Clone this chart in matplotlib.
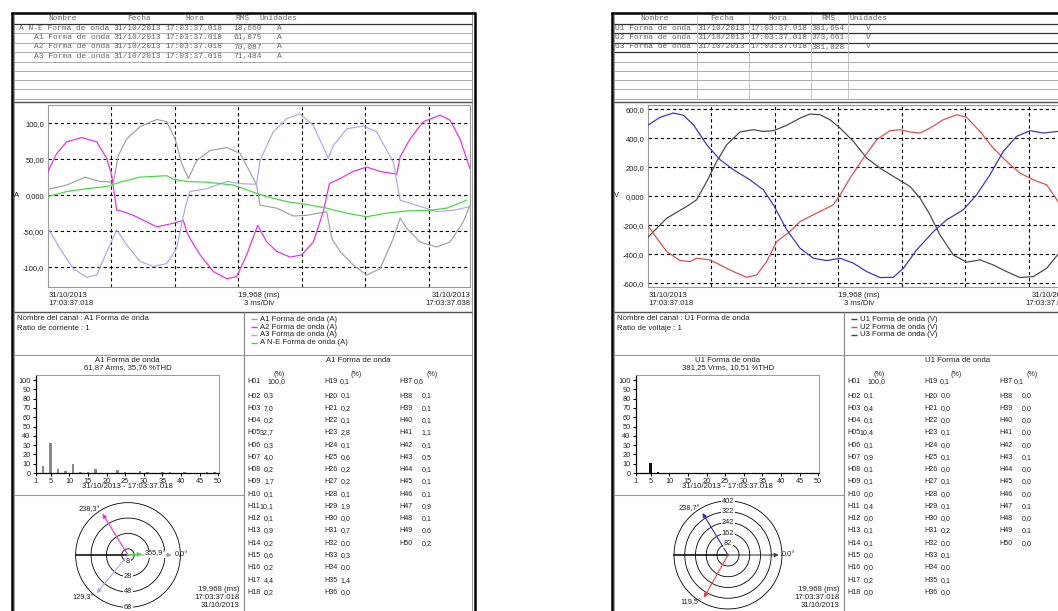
import numpy as np
import matplotlib.pyplot as plt

W, H = 1058, 611
plt.rcParams['font.family'] = ['Liberation Sans', 'DejaVu Sans']

# ---------- datos ----------
fecha = "31/10/2013"
hora_ini = "17:03:37.018"
hora_fin = "17:03:37.038"
duracion = 19.968

nombres_A = ["A N-E", "A1", "A2", "A3"]
rms_A = ["18,660", "61,875", "70,087", "71,484"]
nombres_U = ["U1", "U2", "U3"]
rms_U = ["381,654", "373,661", "381,828"]

# formas de onda de corriente (ms, A)
t_A1 = [0.0, 0.90, 1.76, 2.47, 3.10, 3.34, 3.73, 4.36, 5.15, 5.62, 6.02, 6.33, 6.65, 7.04,
        7.67, 8.46, 9.09, 9.56, 9.87, 10.03, 10.82, 11.61, 12.24, 13.18, 13.42, 13.81,
        14.44, 15.07, 15.70, 16.33, 16.65, 16.96, 17.59, 18.38, 19.01, 19.64, 19.95]
A1 = [8, 14, 25, 19, 18, 55, 78, 95, 105, 102, 78, 44, 23, 48, 62, 66, 58, 32, 14, -14,
      -18, -29, -28, -23, -60, -78, -97, -111, -102, -60, -32, -46, -65, -72, -65, -37, -14]
t_A2 = [0.0, 0.43, 0.90, 1.61, 2.31, 2.79, 3.02, 3.26, 3.37, 4.05, 5.15, 5.94, 6.41, 6.57,
        6.72, 7.20, 7.83, 8.46, 8.93, 9.40, 9.92, 10.35, 10.82, 11.45, 12.00, 12.55, 13.02,
        13.31, 13.81, 14.44, 15.07, 15.70, 16.49, 16.65, 17.12, 17.75, 18.54, 19.01, 19.48, 19.95]
A2 = [32, 58, 74, 80, 74, 51, 28, -21, -21, -28, -44, -39, -35, -51, -60, -83, -106, -116,
      -113, -83, -42, -65, -78, -86, -83, -65, -23, 16, 23, 33, 39, 33, 29, 53, 78, 102,
      111, 104, 78, 37]
t_A3 = [0.0, 0.58, 1.21, 1.84, 2.31, 2.79, 3.26, 3.73, 4.36, 4.99, 5.62, 6.09, 6.49, 6.72,
        7.51, 8.46, 9.09, 9.87, 10.03, 10.66, 11.29, 11.92, 12.55, 13.26, 13.50, 14.13,
        14.91, 15.54, 16.33, 16.65, 17.43, 18.38, 19.17, 19.95]
A3 = [-45, -74, -102, -114, -111, -79, -48, -69, -92, -99, -95, -74, -18, 5, 9, 19, 16, 15,
      48, 88, 106, 113, 97, 51, 69, 92, 96, 88, 46, -7, -14, -23, -21, -16]
t_ANE = [0.0, 0.90, 1.84, 2.79, 3.42, 4.36, 5.62, 5.94, 6.57, 7.51, 8.77, 9.72, 10.35,
         11.29, 12.24, 13.18, 14.13, 15.07, 16.02, 16.96, 18.06, 18.85, 19.80]
ANE = [-2, 5, 9, 12, 18, 25, 27, 22, 19, 18, 14, 4, -2, -9, -13, -18, -25, -30, -25, -22,
       -21, -18, -7]

# formas de onda de tension (ms, V)
t_U1 = [0.0, 0.90, 1.84, 2.31, 2.79, 3.26, 3.73, 4.36, 4.99, 5.46, 5.94, 6.57, 7.20, 7.67,
        8.14, 8.61, 9.09, 9.72, 10.35, 10.98, 11.61, 12.39, 12.87, 13.34, 13.81, 14.44,
        15.07, 15.70, 16.33, 16.96, 17.59, 18.22, 18.85, 19.39]
U1 = [-285, -152, -71, -25, 101, 239, 354, 442, 458, 446, 451, 488, 538, 566, 561, 527, 469,
      377, 262, 193, 136, 67, -14, -129, -267, -405, -455, -439, -474, -520, -561, -554,
      -497, -400]
t_U2 = [0.0, 0.43, 0.90, 1.53, 2.00, 2.31, 2.94, 3.42, 4.05, 4.68, 5.15, 5.62, 6.09, 6.72,
        7.20, 7.98, 8.77, 9.09, 9.56, 10.19, 10.82, 11.45, 11.92, 12.39, 12.87, 13.34, 13.97,
        14.60, 15.07, 15.70, 16.33, 16.96, 17.59, 18.22, 18.85, 19.39]
U2 = [-202, -290, -382, -444, -451, -428, -439, -474, -520, -559, -543, -451, -313, -244,
      -175, -117, -60, 9, 124, 262, 389, 451, 458, 442, 435, 469, 527, 561, 543, 446, 331,
      239, 159, 113, 78, -37]
t_U3 = [0.0, 0.58, 1.21, 1.69, 2.16, 2.79, 3.42, 4.05, 4.83, 5.46, 5.94, 6.57, 7.20, 7.83,
        8.46, 9.09, 9.72, 10.35, 10.98, 11.61, 12.08, 12.71, 13.50, 14.13, 14.91, 15.54,
        16.17, 16.80, 17.43, 18.06, 18.69, 19.39]
U3 = [488, 543, 573, 557, 492, 354, 251, 182, 113, 44, -60, -232, -359, -428, -444, -428,
      -462, -520, -561, -559, -497, -370, -244, -163, -94, 9, 147, 308, 412, 451, 435, 446]

# armonicos H01..H50 (%)
harm_A1 = [100.0, 0.3, 7.0, 0.2, 32.7, 0.3, 4.0, 0.2, 1.7, 0.1, 10.1, 0.1, 0.9, 0.2, 0.6,
           0.2, 4.4, 0.2, 0.1, 0.1, 0.2, 0.1, 2.8, 0.1, 0.6, 0.2, 0.2, 0.1, 1.9, 0.0, 0.7,
           0.0, 0.3, 0.0, 1.4, 0.0, 0.6, 0.1, 0.1, 0.1, 1.1, 0.1, 0.5, 0.1, 0.1, 0.1, 0.9,
           0.1, 0.6, 0.2]
harm_U1 = [100.0, 0.1, 0.4, 0.1, 10.4, 0.1, 0.9, 0.1, 0.1, 0.0, 0.4, 0.0, 0.1, 0.1, 0.0,
           0.0, 0.2, 0.0, 0.1, 0.0, 0.0, 0.0, 0.1, 0.0, 0.1, 0.0, 0.1, 0.0, 0.1, 0.0, 0.2,
           0.0, 0.1, 0.0, 0.1, 0.0, 0.1, 0.0, 0.0, 0.0, 0.0, 0.0, 0.1, 0.0, 0.0, 0.0, 0.1,
           0.0, 0.1, 0.0]

# fasores (angulo en grados, magnitud)
ang_A = [0.0, 238.3, 129.3, 355.9]
mag_A = [57, 63, 64, 18]
anillos_A = [8, 28, 48, 68]
ang_U = [0.0, 119.5, 238.7]
mag_U = [378, 366, 366]
anillos_U = [82, 162, 242, 322, 402]

col_A = ['#a0a0a0', '#e62ee6', '#a8a8f2', '#3ddc3d']   # A1, A2, A3, A N-E
col_U = ['#444444', '#e04848', '#3030c8']              # U1, U2, U3

# ---------- figura ----------
fig = plt.figure(figsize=(W / 100, H / 100), dpi=100)
bg = fig.add_axes([0, 0, 1, 1])
bg.set_xlim(0, W)
bg.set_ylim(H, 0)
bg.axis('off')


def px_axes(x0, y0, x1, y1, **kw):
    return fig.add_axes([x0 / W, 1 - y1 / H, (x1 - x0) / W, (y1 - y0) / H], **kw)


def linea(xs, ys, c='#999999', lw=0.8):
    bg.plot(xs, ys, color=c, lw=lw, solid_capstyle='butt')


def texto(x, y, s, size=5.6, **kw):
    kw.setdefault('va', 'center')
    kw.setdefault('color', '#222222')
    bg.text(x, y, s, fontsize=size, **kw)


def marco(ox):
    linea([ox + 12, ox + 12], [12.2, H + 5], 'k', 1.8)
    linea([ox + 474.5, ox + 474.5], [12.2, H + 5], 'k', 1.8)
    linea([ox + 11.1, ox + 475.4], [13, 13], 'k', 1.8)
    linea([ox + 14, ox + 14], [14, H + 5], '#888888', 0.6)
    linea([ox + 472, ox + 472], [14, H + 5], '#888888', 0.6)


def tabla(ox, cab_x, col_x, filas, n_osc, divisiones, alin_nombre):
    for i, y in enumerate([24, 33.3, 42.5, 51.7, 61.7, 71, 80, 89.3, 98.7]):
        osc = i < n_osc
        linea([ox + 14, ox + 472], [y, y], '#333333' if osc else '#aaaaaa', 0.9 if osc else 0.7)
    for x in divisiones:
        linea([ox + x, ox + x], [14, 98.7], '#bbbbbb', 0.6)
    for x, s in zip(cab_x, ["Nombre", "Fecha", "Hora", "RMS", "Unidades"]):
        texto(ox + x, 18.8, s, size=5.7, family='Liberation Mono', color='#666666')
    for j, fila in enumerate(filas):
        y = 28.8 + j * 9.1
        for k, s in enumerate(fila):
            ha = alin_nombre if k == 0 else ('center' if k == 4 else 'left')
            texto(ox + col_x[k], y, s, size=5.7, family='Liberation Mono',
                  color='#666666', ha=ha)
    linea([ox + 14, ox + 472], [101.5, 101.5], '#555555', 1.0)


def onda(ox, curvas, lim, ticks, etiquetas, unidad):
    ax = px_axes(ox + 47.7, 105.3, ox + 470.3, 287)
    for t, v, c in curvas:
        ax.plot(t, v, color=c, lw=0.85, zorder=3)
    ax.set_xlim(0, duracion)
    ax.set_ylim(*lim)
    ax.set_xticks([])
    ax.set_yticks(ticks, etiquetas)
    ax.tick_params(axis='y', length=0, pad=2.5, labelsize=5.5, labelcolor='#222222')
    for s in ax.spines.values():
        s.set_color('#999999')
        s.set_linewidth(0.8)
    for v in ticks:
        ax.axhline(v, color='k', ls=(0, (3, 2.5)), lw=0.8, zorder=1)
    for x in np.arange(3, duracion, 3):
        ax.axvline(x, color='k', ls=(0, (3, 2.5)), lw=0.8, zorder=1)
    texto(ox + 17, 195.5, unidad, size=5.5, ha='center')
    texto(ox + 48.3, 295.7, fecha, ha='left')
    texto(ox + 48.3, 303.3, hora_ini, ha='left')
    texto(ox + 259, 295.7, "19,968 (ms)", ha='center')
    texto(ox + 259, 303.3, "3 ms/Div", ha='center')
    texto(ox + 470, 295.7, fecha, ha='right')
    texto(ox + 470, 303.3, hora_fin, ha='right')


def secciones(ox):
    linea([ox + 14, ox + 472], [312, 312], '#555555', 1.0)
    linea([ox + 243.5, ox + 243.5], [312, H + 5], '#888888', 0.8)
    linea([ox + 14, ox + 472], [355, 355], '#999999', 0.8)
    linea([ox + 14, ox + 243.5], [495, 495], '#999999', 0.8)


def info(ox, lineas, leyenda):
    texto(ox + 16.7, 319, lineas[0])
    texto(ox + 16.7, 329, lineas[1])
    for k, (lab, c) in enumerate(leyenda):
        y = 319.3 + 7.8 * k
        linea([ox + 250.5, ox + 257], [y, y], c, 1.0)
        texto(ox + 260, y, lab)


def espectro(ox, titulo, sub, harm, color):
    texto(ox + 127.7, 360, titulo, ha='center')
    texto(ox + 127.7, 368, sub, ha='center')
    ax = px_axes(ox + 35.7, 375, ox + 219.3, 473)
    n = np.arange(1, len(harm) + 1)
    ax.bar(n, harm, width=0.7, color=color)
    ax.set_xlim(1, 50.27)
    ax.set_ylim(0, 105.4)
    ax.set_yticks(range(0, 101, 10))
    ax.set_xticks([1, 5, 10, 15, 20, 25, 30, 35, 40, 45, 50])
    ax.tick_params(labelsize=5.3, length=2.5, width=0.7, pad=1.2, labelcolor='#222222')
    for k in ['top', 'right']:
        ax.spines[k].set_color('#999999')
        ax.spines[k].set_linewidth(0.7)
    for k in ['left', 'bottom']:
        ax.spines[k].set_linewidth(0.9)
    texto(ox + 127.7, 487, f"{fecha} - {hora_ini}", ha='center')


def tabla_armonicos(ox, titulo, harm):
    texto(ox + 358, 360, titulo, ha='center')
    lab_x = [247.5, 324, 399.5]
    pct_x = [279.3, 356, 431.7]
    ini_x = [267, 340, 414]
    der_x = [274, 350.5, 431.5]
    fs = 5.1
    for c in range(3):
        texto(ox + pct_x[c], 375, "(%)", size=fs, ha='center')
        for r in range(18):
            k = c * 18 + r
            if k >= len(harm):
                break
            y = 381.5 if r == 0 else 396 + (r - 1) * 12.27
            texto(ox + lab_x[c], y, f"H{k + 1:02d}", size=fs)
            val = f"{harm[k]:.1f}".replace('.', ',')
            if r == 0:
                texto(ox + ini_x[c], y, val, size=fs, ha='left')
            else:
                texto(ox + der_x[c], y, val, size=fs, ha='right')


def fasores(ox, anillos, escala, abajo, angulos, mags, colores, fondo):
    cx, cy = ox + 128, 555
    rmax = anillos[-1]
    R = rmax * escala
    ax = px_axes(cx - R, cy - R, cx + R, cy + R, projection='polar')
    ax.set_theta_zero_location('E')
    ax.set_theta_direction(-1)
    ax.set_ylim(0, rmax)
    ax.set_axis_off()
    th = np.linspace(0, 2 * np.pi, 300)
    for r in anillos:
        ax.plot(th, np.full_like(th, r), color='k', lw=0.6, clip_on=False)
        ax.text(np.pi / 2 if abajo else 3 * np.pi / 2, r, str(r), ha='center', va='center',
                fontsize=5.3, color='#222222', clip_on=False, zorder=4,
                bbox=dict(fc='white', ec='none', pad=0.3))
    ax.plot([np.pi, np.pi], [0, rmax], color='k', lw=1.1, clip_on=False)
    for ang, m, c, f in zip(angulos, mags, colores, fondo):
        a = np.deg2rad(ang)
        ax.annotate('', xy=(a, m), xytext=(0, 0), annotation_clip=False, zorder=3,
                    arrowprops=dict(arrowstyle='-|>', color=c, lw=0.8, mutation_scale=6,
                                    shrinkA=0, shrinkB=0))
        lab = f"{ang:.1f}°".replace('.', ',')
        if np.cos(a) >= 0:
            off, ha = (2, 0), 'left'
        else:
            off, ha = (-2, 3.2 if np.sin(a) < 0 else -3.2), 'right'
        ax.annotate(lab, xy=(a, m), xytext=off, textcoords='offset points', ha=ha,
                    va='center', fontsize=5.3, color='#222222', annotation_clip=False,
                    zorder=5, bbox=dict(fc='white', ec='none', pad=0.2) if f else None)
    texto(ox + 239.3, 589.3, "19,968 (ms)", ha='right')
    texto(ox + 239.3, 597.3, hora_ini, ha='right')
    texto(ox + 239.3, 605.7, fecha, ha='right')


# ---------- pagina de corriente ----------
ox = 0
marco(ox)
filas_A = [(f"{n} Forma de onda", fecha, hora_ini, r, "A") for n, r in zip(nombres_A, rms_A)]
tabla(ox, [48, 127, 185, 235, 260], [109.5, 114, 165.7, 233, 279], filas_A, 1, [], 'right')
onda(ox, [(t_A1, A1, col_A[0]), (t_A2, A2, col_A[1]), (t_A3, A3, col_A[2]), (t_ANE, ANE, col_A[3])],
     (-127.5, 124.7), [100, 50, 0, -50, -100], ["100,0", "50,00", "0,000", "-50,00", "-100,0"], "A")
secciones(ox)
info(ox, ["Nombre del canal : A1 Forma de onda", "Ratio de corriente : 1"],
     [("A1 Forma de onda (A)", col_A[0]), ("A2 Forma de onda (A)", col_A[1]),
      ("A3 Forma de onda (A)", col_A[2]), ("A N-E Forma de onda (A)", col_A[3])])
espectro(ox, "A1 Forma de onda", "61,87 Arms, 35,76 %THD", harm_A1, '#888888')
tabla_armonicos(ox, "A1 Forma de onda", harm_A1)
fasores(ox, anillos_A, 0.77, True, ang_A, mag_A, col_A, [False, False, False, True])

# ---------- pagina de tension ----------
ox = 600
marco(ox)
filas_U = [(f"{n} Forma de onda", fecha, hora_ini, r, "V") for n, r in zip(nombres_U, rms_U)]
tabla(ox, [40, 110, 168, 221.7, 250], [15, 98, 150.7, 212, 268], filas_U, 4,
      [96.7, 149.3, 210.7, 248.3], 'left')
onda(ox, [(t_U1, U1, col_U[0]), (t_U2, U2, col_U[1]), (t_U3, U3, col_U[2])],
     (-626, 626), [600, 400, 200, 0, -200, -400, -600],
     ["600,0", "400,0", "200,0", "0,000", "-200,0", "-400,0", "-600,0"], "V")
secciones(ox)
info(ox, ["Nombre del canal : U1 Forma de onda", "Ratio de voltaje : 1"],
     [("U1 Forma de onda (V)", col_U[0]), ("U2 Forma de onda (V)", col_U[1]),
      ("U3 Forma de onda (V)", col_U[2])])
espectro(ox, "U1 Forma de onda", "381,25 Vrms, 10,51 %THD", harm_U1, '#111111')
tabla_armonicos(ox, "U1 Forma de onda", harm_U1)
fasores(ox, anillos_U, 0.1343, False, ang_U, mag_U, col_U, [False, False, False])

fig.savefig('out.png', dpi=100)
